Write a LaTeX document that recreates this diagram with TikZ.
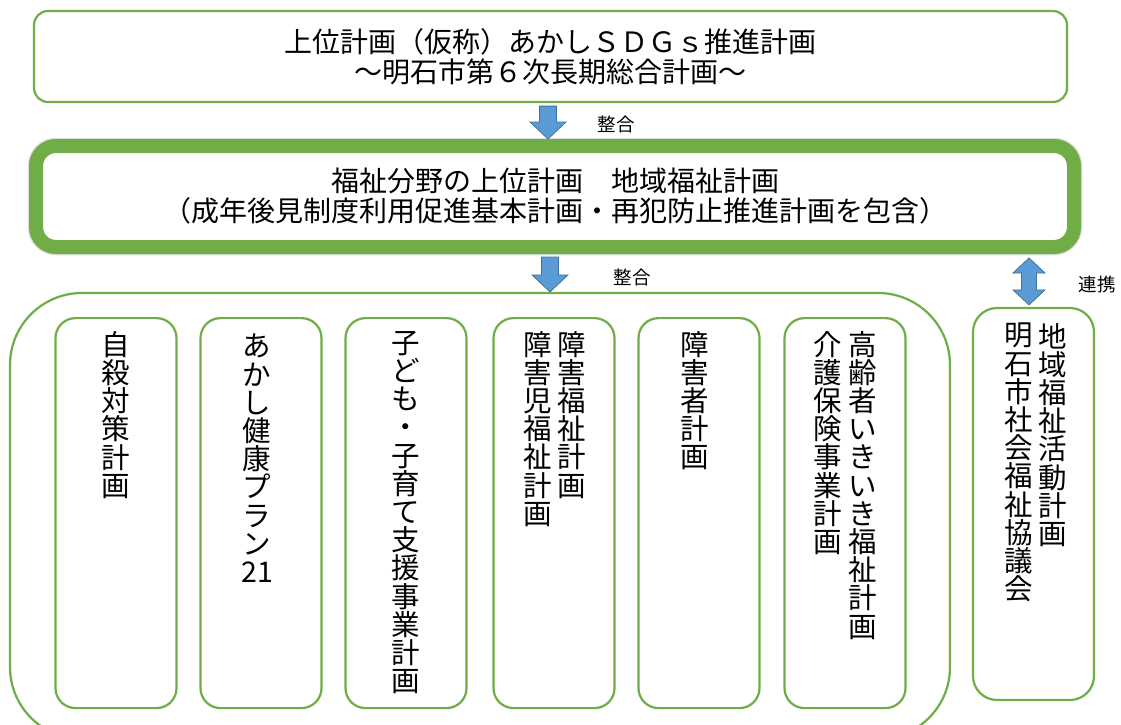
\documentclass[tikz,border=0pt]{standalone}
\usepackage{fontspec}
\setmainfont{Noto Sans CJK JP}
\usetikzlibrary{positioning,calc}

\definecolor{planGreen}{RGB}{112,173,71}
\definecolor{arrowBlue}{RGB}{91,155,213}
\definecolor{arrowEdge}{RGB}{65,113,156}

\begin{document}
\begin{tikzpicture}[x=1pt,y=-1pt,
    plan/.style={draw=planGreen,line width=2.2pt,rounded corners=14pt,fill=white,inner sep=0},
    mainplan/.style={draw=planGreen,line width=14pt,rounded corners=20pt,fill=white,inner sep=0,
      preaction={draw=black!13,line width=16.5pt}},
    subplan/.style={plan,rounded corners=20pt,minimum width=121,minimum height=390,anchor=north},
    htext/.style={font=\fontsize{28}{30}\selectfont,align=center,inner sep=0},
    vtext/.style={font=\fontsize{28.5}{28.2}\selectfont,align=center,anchor=north,inner sep=0},
    note/.style={font=\fontsize{18.5}{20}\selectfont,inner sep=0},
    blockarrow/.style={draw=arrowEdge,fill=arrowBlue,line width=0.8pt,line join=miter}]
  \useasboundingbox (0,0) rectangle (1121,724);
  \clip (0,0) rectangle (1121,724);

  % upper plans
  \node[plan,minimum width=1033,minimum height=91] (sdgs) at (550.5,56.5) {};
  \node[htext] (sdgstext) at (sdgs.center) {上位計画（仮称）あかしＳＤＧｓ推進計画\\～明石市第６次長期総合計画～};
  \node[mainplan,minimum width=1038,minimum height=101] (chiiki) at (555,196.5) {};
  \node[htext] (chiikitext) at (chiiki.center) {福祉分野の上位計画　地域福祉計画\\（成年後見制度利用促進基本計画・再犯防止推進計画を包含）};

  % group of individual plans
  \node[plan,rounded corners=72pt,minimum width=940,minimum height=446] (group) at (480,516) {};
  \foreach \x/\n in {116/b1,261/b2,406/b3,554/b4,699/b5,845/b6} {
    \node[subplan] (\n) at (\x,317) {};
  }
  \node[plan,rounded corners=24pt,minimum width=121,minimum height=392] (shakyo) at (1033.5,504) {};

  % vertical texts
  \node[vtext,below=14pt of b1.north] (t1) {自\\殺\\対\\策\\計\\画};
  \node[vtext,below=17pt of b2.north,xshift=-4] (t2) {あ\\か\\し\\健\\康\\プ\\ラ\\ン\\21};
  \node[vtext,below=14pt of b3.north] (t3) {子\\ど\\も\\・\\子\\育\\て\\支\\援\\事\\業\\計\\画};
  \node[vtext,below=14pt of b4.north,xshift=18] (t4a) {障\\害\\福\\祉\\計\\画};
  \node[vtext,below=14pt of b4.north,xshift=-16] (t4b) {障\\害\\児\\福\\祉\\計\\画};
  \node[vtext,below=14pt of b5.north,xshift=-4] (t5) {障\\害\\者\\計\\画};
  \node[vtext,below=14pt of b6.north,xshift=18] (t6a) {高\\齢\\者\\い\\き\\い\\き\\福\\祉\\計\\画};
  \node[vtext,below=14pt of b6.north,xshift=-17] (t6b) {介\\護\\保\\険\\事\\業\\計\\画};
  \node[vtext,below=16pt of shakyo.north,xshift=19] (t7a) {地\\域\\福\\祉\\活\\動\\計\\画};
  \node[vtext,below=16pt of shakyo.north,xshift=-15] (t7b) {明\\石\\市\\社\\会\\福\\祉\\協\\議\\会};

  % arrows
  \coordinate (a1) at (548,0);
  \coordinate (a2) at (550,0);
  \coordinate (a3) at (1029,0);
  \draw[blockarrow] let \p1=($(a1 |- sdgs.south)+(0,3)$), \p2=(a1 |- chiiki.north) in
    (\x1-8.5,\y1) -- (\x1+8.5,\y1) -- (\x1+8.5,\y2+17) -- (\x1+18,\y2+17)
    -- (\x2,\y2) -- (\x1-18,\y2+17) -- (\x1-8.5,\y2+17) -- cycle;
  \draw[blockarrow] let \p1=($(a2 |- chiiki.south)+(0,3)$), \p2=(a2 |- group.north) in
    (\x1-8.5,\y1) -- (\x1+8.5,\y1) -- (\x1+8.5,\y2+17) -- (\x1+18,\y2+17)
    -- (\x2,\y2) -- (\x1-18,\y2+17) -- (\x1-8.5,\y2+17) -- cycle;
  \draw[blockarrow] let \p1=($(a3 |- chiiki.south)+(0,4)$), \p2=($(a3 |- shakyo.north)+(0,-2)$) in
    (\x1,\y1) -- (\x1+16,\y1-15) -- (\x1+7.5,\y1-15) -- (\x1+7.5,\y2+15) -- (\x1+16,\y2+15)
    -- (\x2,\y2) -- (\x1-16,\y2+15) -- (\x1-7.5,\y2+15) -- (\x1-7.5,\y1-15) -- (\x1-16,\y1-15) -- cycle;
  \node[note] (seigo1) at (616,124) {整合};
  \node[note] (seigo2) at (632,277) {整合};
  \node[note] (renkei) at (1097,284) {連携};
\end{tikzpicture}
\end{document}
